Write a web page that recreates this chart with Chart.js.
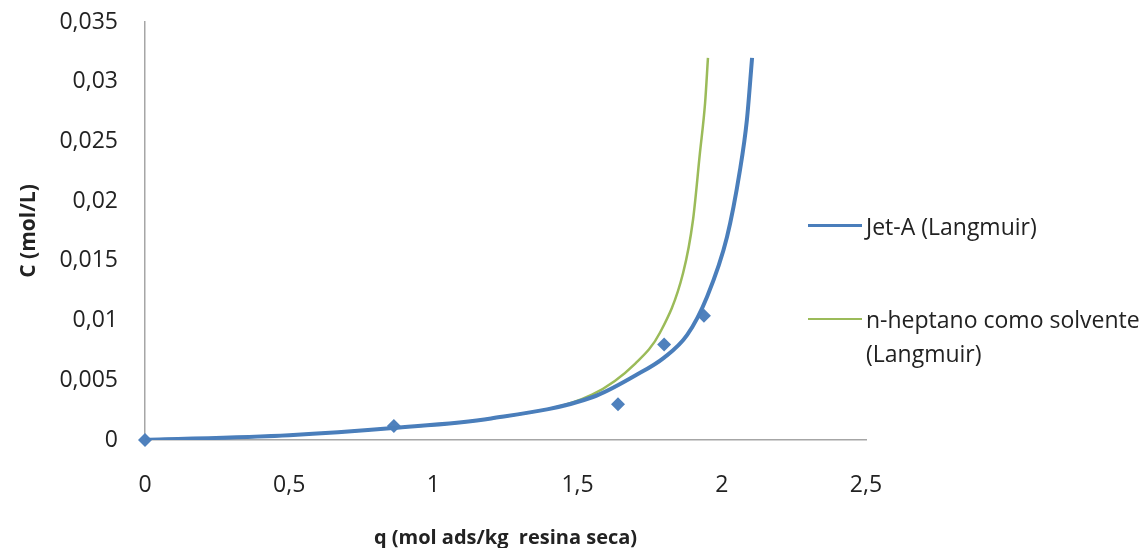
<!DOCTYPE html>
<html>
<head>
<meta charset="utf-8">
<script src="https://cdn.jsdelivr.net/npm/chart.js@4.4.0/dist/chart.umd.min.js"></script>
<style>
  body { margin: 0; background: #fff; }
  #wrap { position: relative; width: 1146px; height: 548px; }
  .legend { position: absolute; left: 808px; font-family: "Open Sans", sans-serif; font-size: 23px; color: #222; line-height: 34px; white-space: nowrap; }
  .legend .sw { display: inline-block; width: 54px; height: 0; vertical-align: middle; margin-right: 4px; position: relative; top: -3px; }
</style>
</head>
<body>
<div id="wrap">
  <canvas id="isoChart" width="1146" height="548"></canvas>
  <div class="legend" style="top:209px;"><span class="sw" style="border-top:3px solid #4A7EBB;"></span>Jet-A (Langmuir)</div>
  <div class="legend" style="top:302px;"><span class="sw" style="border-top:2px solid #9BBB59;"></span>n-heptano como solvente<br><span style="margin-left:58px;">(Langmuir)</span></div>
</div>
<script>
// pontos experimentais
const measuredQ = [0, 0.863, 1.64, 1.80, 1.938];
const measuredC = [0, 0.00117, 0.0030, 0.0080, 0.0104];

// modelo Langmuir - Jet-A
const jetQ = [0, 0.5, 0.86, 1.2, 1.553, 1.70, 1.80, 1.88, 1.949, 2.018, 2.063, 2.087, 2.105];
const jetC = [0, 0.0004, 0.0010, 0.0018, 0.0036, 0.0054, 0.0069, 0.0088, 0.0120, 0.0170, 0.0226, 0.0268, 0.0320];

// modelo Langmuir - n-heptano
const heptQ = [0, 0.5, 0.86, 1.2, 1.55, 1.70, 1.786, 1.866, 1.900, 1.924, 1.942, 1.952];
const heptC = [0, 0.0004, 0.0010, 0.0018, 0.0038, 0.0064, 0.0090, 0.0140, 0.0184, 0.0240, 0.0282, 0.0320];

const xTicks = [0, 0.5, 1, 1.5, 2, 2.5];
const yTicks = [0, 0.005, 0.01, 0.015, 0.02, 0.025, 0.03, 0.035];

function pairs(xs, ys) {
    return xs.map(function(x, i) { return { x: x, y: ys[i] }; });
}
function virgula(v) {
    return String(v).replace('.', ',');
}

const ctx = document.getElementById('isoChart').getContext('2d');
const isoChart = new Chart(ctx, {
    type: 'scatter',
    data: {
        datasets: [
            {
                label: 'Jet-A (Langmuir)',
                data: pairs(jetQ, jetC),
                showLine: true,
                borderColor: '#4A7EBB',
                borderWidth: 4,
                pointRadius: 0,
                cubicInterpolationMode: 'monotone'
            },
            {
                label: 'n-heptano como solvente (Langmuir)',
                data: pairs(heptQ, heptC),
                showLine: true,
                borderColor: '#9BBB59',
                borderWidth: 2.5,
                pointRadius: 0,
                cubicInterpolationMode: 'monotone'
            },
            {
                label: 'experimental',
                data: pairs(measuredQ, measuredC),
                pointStyle: 'rectRot',
                pointRadius: 7,
                backgroundColor: '#4F81BD',
                borderColor: '#4F81BD',
                borderWidth: 0,
                clip: false
            }
        ]
    },
    options: {
        responsive: false,
        animation: false,
        layout: { padding: { top: 22, right: 280, left: 0, bottom: 0 } },
        plugins: { legend: { display: false }, tooltip: { enabled: false } },
        scales: {
            x: {
                type: 'linear',
                min: 0, max: 2.5,
                afterBuildTicks: function(s) { s.ticks = xTicks.map(function(v) { return { value: v }; }); },
                afterFit: function(s) { s.height = 108; s.paddingLeft = 0; s.paddingRight = 0; },
                grid: { display: false, drawTicks: false },
                border: { color: '#A6A6A6', width: 1.5 },
                ticks: {
                    padding: 32,
                    color: '#222',
                    font: { family: 'Open Sans', size: 23 },
                    maxRotation: 0,
                    callback: function(v) { return virgula(v); }
                },
                title: {
                    display: true,
                    text: 'q (mol ads/kg  resina seca)',
                    color: '#222',
                    font: { family: 'Open Sans', size: 20, weight: 'bold' },
                    padding: { top: 0, bottom: -2 }
                }
            },
            y: {
                type: 'linear',
                min: 0, max: 0.035,
                afterBuildTicks: function(s) { s.ticks = yTicks.map(function(v) { return { value: v }; }); },
                afterFit: function(s) { s.width = 145; s.paddingTop = 0; s.paddingBottom = 0; },
                grid: { display: false, drawTicks: false },
                border: { color: '#A6A6A6', width: 1.5 },
                ticks: {
                    padding: 27,
                    color: '#222',
                    font: { family: 'Open Sans', size: 23 },
                    callback: function(v) { return virgula(v); }
                },
                title: {
                    display: true,
                    text: 'C (mol/L)',
                    color: '#222',
                    font: { family: 'Open Sans', size: 21, weight: 'bold' },
                    padding: { top: 16, bottom: 0 }
                }
            }
        }
    }
});
</script>
</body>
</html>
